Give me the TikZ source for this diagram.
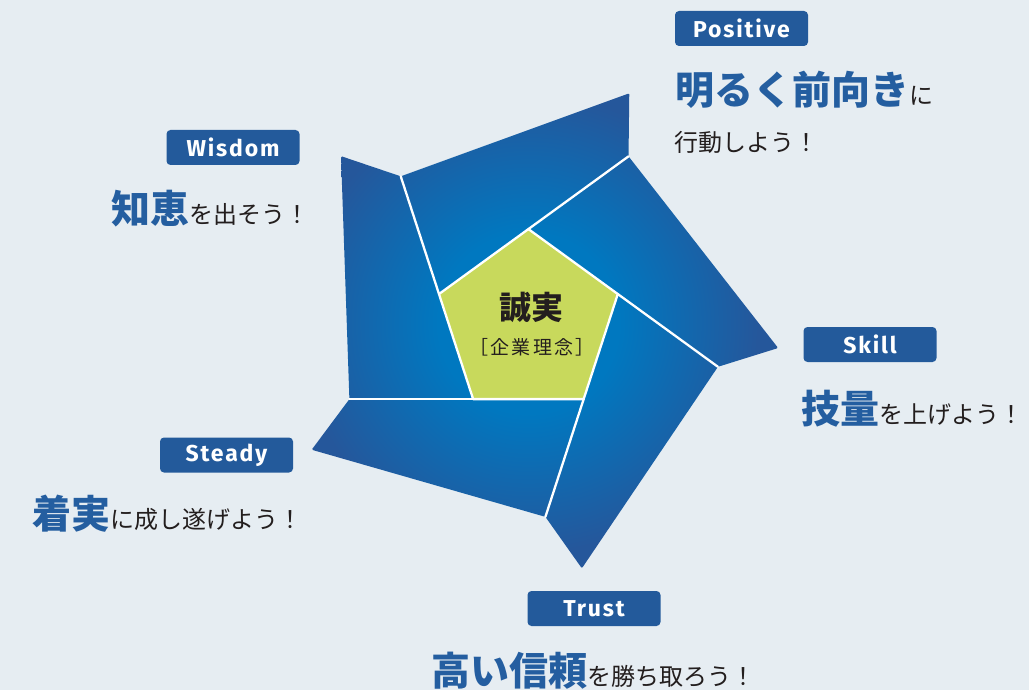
\documentclass[tikz,border=0pt]{standalone}
\usepackage{fontspec}
\setmainfont{Fira Sans}
\newfontfamily\jp{Noto Sans CJK JP}
\usetikzlibrary{calc}
\definecolor{bgc}{RGB}{230,237,242}
\definecolor{boxblue}{RGB}{35,90,155}
\definecolor{txtblue}{RGB}{36,94,160}
\definecolor{ink}{RGB}{35,30,30}
\definecolor{lime}{RGB}{200,217,92}
\definecolor{bdark}{RGB}{37,87,155}
\definecolor{bbright}{RGB}{0,120,192}
\pgfdeclareradialshading{bladeshade}{\pgfpoint{0bp}{0bp}}{color(0bp)=(bbright); color(9bp)=(bbright); color(23bp)=(bdark); color(50bp)=(bdark)}
\newcommand\headtxt[1]{{\jp\bfseries\fontsize{39}{39}\selectfont\color{txtblue}#1}}
\newcommand\subtxt[1]{{\jp\fontsize{24}{24}\selectfont\color{ink}#1}}
\begin{document}
\begin{tikzpicture}[x=1pt,y=-1pt,
  tag/.style={fill=boxblue, rounded corners=4pt, minimum width=133pt, minimum height=35pt,
    inner sep=0pt, text=white, font=\fontsize{23}{23}\selectfont\bfseries\addfontfeatures{LetterSpace=8}},
  line/.style={anchor=base west, inner sep=0pt},
  liner/.style={anchor=base east, inner sep=0pt},
  sep/.style={white, line width=2.3pt, line cap=round, line join=round}]
\fill[bgc] (0,0) rectangle (1029,690);
\useasboundingbox (0,0) rectangle (1029,690);

% star
\begin{scope}[shift={(528.4,323.1)}, y=1pt]
  \foreach \k in {0,...,4} {
    \coordinate (v\k) at ({90+72*\k}:94);
    \coordinate (o\k) at ({66.3+72*\k}:251);
  }
  \foreach \k/\n in {0/1,1/2,2/3,3/4,4/0}
    \coordinate (e\k) at ($(v\n)!2.12!(v\k)$);
  \foreach \k/\n in {0/1,1/2,2/3,3/4,4/0} {
    \begin{scope}
      \clip (v\n) -- (e\n) -- (o\k) -- (e\k) -- cycle;
      \shade[shading=bladeshade] (0,0) circle (250);
    \end{scope}
  }
  \fill[lime] (v0) -- (v1) -- (v2) -- (v3) -- (v4) -- cycle;
  \foreach \k in {0,...,4} \draw[sep] (v\k) -- (e\k);
  \draw[sep] (v0) -- (v1) -- (v2) -- (v3) -- (v4) -- cycle;
\end{scope}

\node[font=\jp\bfseries\fontsize{32}{32}\selectfont, text=ink] (core) at (531,307.5) {誠実};
\node[font=\jp\fontsize{19}{19}\selectfont\addfontfeatures{LetterSpace=12}, text=ink] (coresub) at (532,347) {［企業理念］};

% Positive
\node[tag] (tpos) at (741.5,28.5) {Positive};
\node[line] (hpos) at (675,105) {\headtxt{明るく前向き}\subtxt{に}};
\node[line] (spos) at (674,151.5) {\subtxt{行動しよう！}};

% Wisdom
\node[tag] (twis) at (233,147.5) {Wisdom};
\node[liner] (hwis) at (310,223.5) {\headtxt{知恵}\subtxt{を出そう！}};

% Skill
\node[tag] (tski) at (870,344.5) {Skill};
\node[line] (hski) at (801.5,423.5) {\headtxt{技量}\subtxt{を上げよう！}};

% Steady
\node[tag] (tste) at (226.5,455) {Steady};
\node[liner] (hste) at (303,528.5) {\headtxt{着実}\subtxt{に成し遂げよう！}};

% Trust
\node[tag] (ttru) at (594,608.5) {Trust};
\node[line] (htru) at (431.5,685.5) {\headtxt{高い信頼}\subtxt{を勝ち取ろう！}};
\end{tikzpicture}
\end{document}
